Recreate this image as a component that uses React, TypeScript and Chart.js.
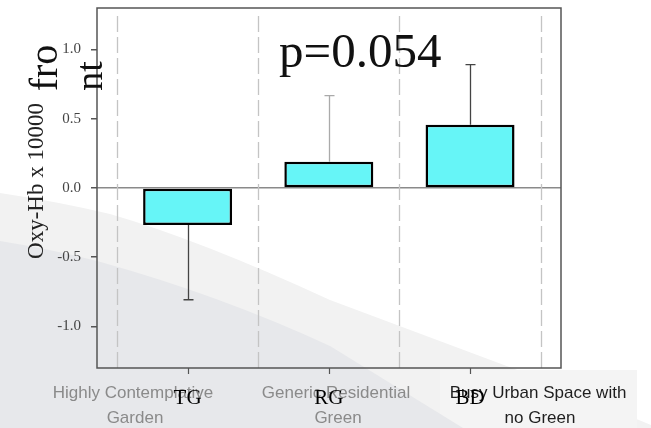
import React, { useEffect, useRef } from 'react';
import { Chart, registerables } from 'chart.js';

Chart.register(...registerables);

// ---- data ----
const categories = ['TG', 'RG', 'BD'];
const categoryPositions = [0, 1, 2];
const means = [-0.268, 0.19, 0.457];
const errors = [0.539, 0.477, 0.434];
const errorColors = ['#444444', '#aaaaaa', '#444444'];
const yTicks = [-1.0, -0.5, 0.0, 0.5, 1.0];
const dividerPositions = [-0.5, 0.5, 1.5, 2.5];
const slideLabels = [
  ['Highly Contemplative', 'Garden'],
  ['Generic Residential', 'Green'],
  ['Busy Urban Space with', 'no Green'],
];
const pValueText = 'p=0.054';
const yAxisTitle = 'Oxy-Hb x 10000';
const overlayWords = ['fro', 'nt'];

const SERIF = "'Liberation Serif', 'Times New Roman', serif";
const SANS = "'Liberation Sans', Arial, sans-serif";

function rotText(ctx: CanvasRenderingContext2D, text: string, x: number, y: number, font: string, color: string) {
  ctx.save();
  ctx.translate(x, y);
  ctx.rotate(-Math.PI / 2);
  ctx.font = font;
  ctx.fillStyle = color;
  ctx.textAlign = 'center';
  ctx.textBaseline = 'alphabetic';
  ctx.fillText(text, 0, 0);
  ctx.restore();
}

const decorPlugin = {
  id: 'decor',
  beforeDraw(chart: any) {
    const ctx = chart.ctx as CanvasRenderingContext2D;
    const w = chart.width, h = chart.height;
    ctx.save();
    ctx.fillStyle = '#ffffff';
    ctx.fillRect(0, 0, w, h);
    // light slide swoosh
    ctx.fillStyle = '#f2f2f2';
    ctx.beginPath();
    ctx.moveTo(0, 193);
    ctx.quadraticCurveTo(60, 202, 110, 214);
    ctx.quadraticCurveTo(200, 240, 330, 300);
    ctx.lineTo(520, 371);
    ctx.lineTo(w, 425);
    ctx.lineTo(w, h);
    ctx.lineTo(0, h);
    ctx.closePath();
    ctx.fill();
    // label box
    ctx.fillStyle = '#f4f4f4';
    ctx.fillRect(440, 370, 197, h - 370);
    // darker swoosh
    ctx.fillStyle = '#e7e8eb';
    ctx.beginPath();
    ctx.moveTo(0, 241);
    ctx.quadraticCurveTo(50, 249, 97, 261);
    ctx.quadraticCurveTo(220, 295, 330, 346);
    ctx.lineTo(463, h);
    ctx.lineTo(0, h);
    ctx.closePath();
    ctx.fill();
    ctx.restore();
  },
  beforeDatasetsDraw(chart: any) {
    const ctx = chart.ctx as CanvasRenderingContext2D;
    const xs = chart.scales.x;
    const { top, bottom } = chart.chartArea;
    ctx.save();
    ctx.strokeStyle = '#c4c4c4';
    ctx.lineWidth = 1.3;
    ctx.setLineDash([16, 5]);
    dividerPositions.forEach((p) => {
      const x = Math.round(xs.getPixelForValue(p)) + 0.5;
      ctx.beginPath();
      ctx.moveTo(x, top + 8);
      ctx.lineTo(x, bottom);
      ctx.stroke();
    });
    ctx.restore();
  },
  afterDatasetsDraw(chart: any) {
    const ctx = chart.ctx as CanvasRenderingContext2D;
    const ys = chart.scales.y;
    const meta = chart.getDatasetMeta(0);
    ctx.save();
    meta.data.forEach((bar: any, i: number) => {
      const v = means[i];
      const end = v + Math.sign(v) * errors[i];
      const x = Math.round(bar.x) + 0.5;
      const y0 = ys.getPixelForValue(v);
      const y1 = ys.getPixelForValue(end);
      ctx.strokeStyle = errorColors[i];
      ctx.lineWidth = 1.3;
      ctx.beginPath();
      ctx.moveTo(x, y0);
      ctx.lineTo(x, y1);
      ctx.moveTo(x - 5, y1);
      ctx.lineTo(x + 5, y1);
      ctx.stroke();
    });
    ctx.restore();
  },
  afterDraw(chart: any) {
    const ctx = chart.ctx as CanvasRenderingContext2D;
    const xs = chart.scales.x;
    const { left, right, top, bottom } = chart.chartArea;
    ctx.save();
    // frame
    ctx.strokeStyle = '#555555';
    ctx.lineWidth = 1.5;
    ctx.strokeRect(left, top, right - left, bottom - top);
    // category tick marks below axis
    ctx.lineWidth = 1.2;
    categoryPositions.forEach((p) => {
      const x = Math.round(xs.getPixelForValue(p)) + 0.5;
      ctx.beginPath();
      ctx.moveTo(x, bottom);
      ctx.lineTo(x, bottom + 6);
      ctx.stroke();
    });
    // slide labels
    const slideCenters = [133, 336, 538];
    const slideColors = ['#8a8a8a', '#8a8a8a', '#1e1e1e'];
    ctx.font = `17px ${SANS}`;
    ctx.textAlign = 'center';
    ctx.textBaseline = 'alphabetic';
    slideLabels.forEach((lines, i) => {
      ctx.fillStyle = slideColors[i];
      ctx.fillText(lines[0], slideCenters[i], 398);
      ctx.fillText(lines[1], slideCenters[i] + 2, 423);
    });
    // category labels
    ctx.font = `21px ${SERIF}`;
    ctx.fillStyle = '#000000';
    categories.forEach((c, i) => {
      ctx.fillText(c, xs.getPixelForValue(categoryPositions[i]), 404);
    });
    // p-value
    ctx.font = `49px ${SERIF}`;
    ctx.textAlign = 'left';
    ctx.fillStyle = '#111111';
    ctx.fillText(pValueText, 279, 67);
    ctx.restore();
    // rotated texts
    rotText(ctx, yAxisTitle, 43, 181, `23px ${SERIF}`, '#222222');
    rotText(ctx, overlayWords[0], 57, 68, `40px ${SERIF}`, '#111111');
    rotText(ctx, overlayWords[1], 102, 76, `38px ${SERIF}`, '#111111');
  },
};

export default function App() {
  const canvasRef = useRef<HTMLCanvasElement | null>(null);

  useEffect(() => {
    const canvas = canvasRef.current;
    if (!canvas) return;
    const chart = new Chart(canvas, {
      type: 'bar',
      data: {
        datasets: [
          {
            data: categoryPositions.map((x, i) => ({ x, y: means[i] })),
            backgroundColor: '#66f5f7',
            borderColor: '#000000',
            borderWidth: 2.5,
            borderSkipped: false,
            categoryPercentage: 1,
            barPercentage: 0.63,
          } as any,
        ],
      },
      options: {
        animation: false,
        responsive: true,
        maintainAspectRatio: false,
        events: [],
        layout: { padding: { left: 47, right: 90, top: 8, bottom: 40 } },
        plugins: { legend: { display: false }, tooltip: { enabled: false } },
        scales: {
          x: {
            type: 'linear',
            offset: false,
            min: -0.6415,
            max: 2.644,
            afterBuildTicks: (s: any) => {
              s.ticks = categoryPositions.map((v) => ({ value: v }));
            },
            ticks: { display: false },
            grid: { display: false, offset: false },
            border: { display: false },
            afterFit: (s: any) => {
              s.height = 20;
              s.paddingLeft = 0;
              s.paddingRight = 0;
            },
          },
          y: {
            type: 'linear',
            min: -1.3,
            max: 1.3,
            afterBuildTicks: (s: any) => {
              s.ticks = yTicks.map((v) => ({ value: v }));
            },
            ticks: {
              callback: (v: any) => Number(v).toFixed(1),
              font: { family: SERIF, size: 15 },
              color: '#444444',
              padding: 10,
            },
            grid: {
              color: (c: any) => (c.tick && c.tick.value === 0 ? '#8a8a8a' : 'rgba(0,0,0,0)'),
              lineWidth: 1.5,
              tickColor: '#555555',
              tickLength: 6,
              drawTicks: true,
            },
            border: { display: false },
            afterFit: (s: any) => {
              s.width = 50;
              s.paddingTop = 0;
              s.paddingBottom = 0;
            },
          },
        },
      } as any,
      plugins: [decorPlugin],
    });
    return () => chart.destroy();
  }, []);

  return (
    <div style={{ position: 'absolute', left: 0, top: 0, width: 651, height: 428 }}>
      <canvas ref={canvasRef} style={{ display: 'block' }} />
    </div>
  );
}
